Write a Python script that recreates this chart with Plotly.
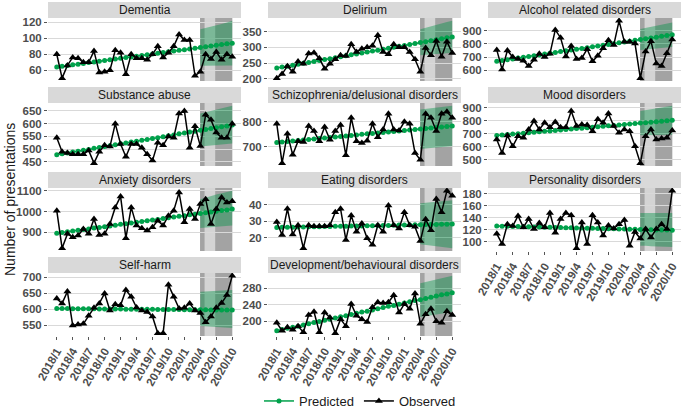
import plotly.graph_objects as go

MONTHS = ["2018/1","2018/2","2018/3","2018/4","2018/5","2018/6","2018/7","2018/8","2018/9","2018/10","2018/11","2018/12",
          "2019/1","2019/2","2019/3","2019/4","2019/5","2019/6","2019/7","2019/8","2019/9","2019/10","2019/11","2019/12",
          "2020/1","2020/2","2020/3","2020/4","2020/5","2020/6","2020/7","2020/8","2020/9","2020/10"]
TICKS = ["2018/1","2018/4","2018/7","2018/10","2019/1","2019/4","2019/7","2019/10","2020/1","2020/4","2020/7","2020/10"]
RIBBON_MONTHS = ["2020/4","2020/5","2020/6","2020/7","2020/8","2020/9","2020/10"]

dementia_obs = [80,50,66,76,75,70,70,84,57,58,60,85,82,55,80,75,75,73,80,90,76,82,90,105,98,98,53,58,80,74,83,73,80,77]
dementia_pred = [64.0,64.9,65.8,66.7,67.6,68.5,69.5,70.4,71.3,72.2,73.1,74.0,74.9,75.8,76.7,77.6,78.5,79.5,80.4,81.3,82.2,83.1,84.0,84.9,85.8,86.7,87.6,88.5,89.5,90.4,91.3,92.2,93.1,94.0]
dementia_lo = [65.5,66,66,66,66,66,66]
dementia_hi = [111.5,113,114.5,116,118,120,122]

delirium_obs = [202,215,240,222,255,248,280,283,265,232,248,262,275,272,310,285,295,300,305,338,285,278,310,300,300,285,262,222,298,275,320,270,318,282]
delirium_pred = [234,237,240,243,246,249,252,255,258,261,264,267,270,273,276,279,282,285,288,291,294,297,300,303,306,309,312,315,318,321,324,327,330,333]
delirium_lo = [275,277,278,279,280,281,282]
delirium_hi = [357,362,367,372,376,380,384]

alcohol_obs = [754,607,749,700,685,673,632,680,724,700,724,905,846,705,783,685,693,759,668,710,766,827,790,973,815,815,802,541,741,820,651,632,729,832]
alcohol_pred = [668,674,680,686,692,698,704,710,716,723,729,735,741,747,753,759,765,771,777,783,789,795,801,807,813,820,826,832,838,844,850,856,862,868]
alcohol_lo = [754,757,760,763,767,771,775]
alcohol_hi = [912,920,928,936,944,952,961]

substance_obs = [545,490,485,480,480,480,495,445,490,515,510,600,520,470,520,520,505,480,455,525,515,550,545,640,650,505,590,512,635,615,565,545,545,600]
substance_pred = [478,482,485,489,492,496,499,503,506,510,513,517,521,524,528,531,535,538,542,545,549,553,556,560,563,567,570,574,577,581,584,588,591,595]
substance_lo = [510,512,514,516,518,520,522]
substance_hi = [640,645,650,655,660,665,670]

schizo_obs = [792,636,752,669,723,720,783,763,723,779,729,763,787,667,816,723,716,725,792,739,769,832,769,765,800,792,676,649,832,816,763,832,840,816]
schizo_pred = [718,720,722,724,726,728,730,732,734,736,738,740,742,744,746,748,750,752,753,755,757,759,761,763,765,767,769,771,773,775,777,779,781,783]
schizo_lo = [692,694,696,698,700,702,703]
schizo_hi = [849,851,853,856,858,861,863]

mood_obs = [655,552,686,603,681,668,732,797,732,784,750,789,750,750,874,758,771,766,719,810,784,854,758,706,732,719,603,474,681,732,655,663,668,725]
mood_pred = [686,690,693,697,700,704,707,711,714,718,721,725,728,732,735,739,742,746,749,753,756,760,763,767,770,774,777,781,784,788,791,795,798,802]
mood_lo = [688,689,689,690,690,691,691]
mood_hi = [874,880,887,894,900,907,913]

anxiety_obs = [1004,823,892,876,884,916,892,964,887,892,940,1020,1073,871,1020,932,919,908,924,956,932,980,1004,1092,948,1012,964,1036,1060,940,1012,1068,1044,1050]
anxiety_pred = [895,899,902,906,909,913,916,920,923,927,930,934,938,941,945,948,952,955,959,962,966,970,973,977,980,984,987,991,994,998,1001,1005,1008,1012]
anxiety_lo = [920,922,924,926,928,930,932]
anxiety_hi = [1060,1068,1075,1082,1088,1094,1100]

eating_obs = [29.6,21.6,37.6,22,27.6,13.6,27.6,27,27,27,27.6,35.6,37.6,18.6,33.6,23.6,28.6,19.6,15.6,27.6,23.6,39.6,27.6,25.6,35.6,27.6,26.6,18,31.2,24.6,43.6,35.6,48.6,45.6]
eating_pred = [26.2,26.3,26.3,26.4,26.5,26.5,26.6,26.6,26.7,26.8,26.8,26.9,27.0,27.0,27.1,27.2,27.2,27.3,27.3,27.4,27.5,27.5,27.6,27.7,27.7,27.8,27.9,27.9,28.0,28.0,28.1,28.2,28.2,28.3]
eating_lo = [16,15.6,15.2,14.8,14.4,14,13.6]
eating_hi = [41,41.3,41.6,41.9,42.2,42.5,42.8]

personality_obs = [113,96,129,126,143,124,138,121,131,124,148,115,138,148,144,89,132,96,144,132,110,127,122,129,136,93,116,105,121,107,121,129,121,185]
personality_pred = [126.0,125.8,125.6,125.4,125.2,124.9,124.7,124.5,124.3,124.1,123.9,123.7,123.5,123.2,123.0,122.8,122.6,122.4,122.2,122.0,121.8,121.5,121.3,121.1,120.9,120.7,120.5,120.3,120.1,119.8,119.6,119.4,119.2,119.0]
personality_lo = [93,93,92,92,92,91,91]
personality_hi = [148,148,148,148,148,148,148]

selfharm_obs = [634,619,656,550,553,555,580,605,619,650,597,616,613,661,640,606,597,592,578,526,526,677,640,603,605,619,597,589,560,578,605,620,645,705]
selfharm_pred = [603.0,602.8,602.7,602.5,602.4,602.2,602.1,601.9,601.8,601.6,601.5,601.3,601.2,601.0,600.9,600.7,600.6,600.4,600.3,600.1,600.0,599.8,599.7,599.5,599.4,599.2,599.1,598.9,598.8,598.6,598.5,598.3,598.2,598.0]
selfharm_lo = [548,547,546,545,544,543,542]
selfharm_hi = [655,656,657,658,659,660,661]

develop_obs = [196,177,185,179,188,173,215,223,173,221,209,171,205,188,242,213,205,198,234,246,244,246,263,221,242,230,267,194,217,230,200,196,224,215]
develop_pred = [177,180,183,185,188,191,194,197,199,202,205,208,211,213,216,219,222,224,227,230,233,236,238,241,244,247,250,252,255,258,261,264,266,269]
develop_lo = [210,212,214,216,218,220,222]
develop_hi = [292,295,298,301,304,307,310]

PANELS = [
    ("Dementia", dementia_obs, dementia_pred, dementia_lo, dementia_hi, [60,80,100,120]),
    ("Delirium", delirium_obs, delirium_pred, delirium_lo, delirium_hi, [200,250,300,350]),
    ("Alcohol related disorders", alcohol_obs, alcohol_pred, alcohol_lo, alcohol_hi, [600,700,800,900]),
    ("Substance abuse", substance_obs, substance_pred, substance_lo, substance_hi, [450,500,550,600,650]),
    ("Schizophrenia/delusional disorders", schizo_obs, schizo_pred, schizo_lo, schizo_hi, [700,800]),
    ("Mood disorders", mood_obs, mood_pred, mood_lo, mood_hi, [500,600,700,800,900]),
    ("Anxiety disorders", anxiety_obs, anxiety_pred, anxiety_lo, anxiety_hi, [900,1000,1100]),
    ("Eating disorders", eating_obs, eating_pred, eating_lo, eating_hi, [20,30,40]),
    ("Personality disorders", personality_obs, personality_pred, personality_lo, personality_hi, [100,120,140,160,180]),
    ("Self-harm", selfharm_obs, selfharm_pred, selfharm_lo, selfharm_hi, [550,600,650,700]),
    ("Development/behavioural disorders", develop_obs, develop_pred, develop_lo, develop_hi, [160,200,240,280]),
]

W, H = 685, 410
COLS = [(48, 241), (268, 461), (488, 681)]
ROWS = [(18, 81), (103, 166), (188, 251), (273, 336)]
STRIP_H = 16
BOTTOM = {8, 9, 10}


def px(x):
    return x / W


def py(y):
    return (H - y) / H


GREEN = "#00A14B"
FONT = "Liberation Sans, Arial, sans-serif"
TICKFONT = dict(family=FONT, size=11.5, color="#4d4d4d", weight="bold")

fig = go.Figure()
shapes = []
annotations = []
layout = {}

for i, (name, obs, pred, lo, hi, yt) in enumerate(PANELS):
    r, c = divmod(i, 3)
    k = i + 1
    xs = "" if k == 1 else str(k)
    x0, x1 = COLS[c]
    y0, y1 = ROWS[r]
    allv = obs + pred + lo + hi
    vmin, vmax = min(allv), max(allv)
    pad = (vmax - vmin) * 0.05
    layout["xaxis" + xs] = dict(
        domain=[px(x0), px(x1)], anchor="y" + xs, type="category",
        categoryorder="array", categoryarray=MONTHS,
        range=[-1.65, 34.65], showgrid=False, zeroline=False, showline=False,
        tickmode="array", tickvals=TICKS, ticktext=TICKS,
        showticklabels=(i in BOTTOM), ticks="outside" if i in BOTTOM else "",
        ticklen=3, tickcolor="#555555", tickangle=-60, tickfont=TICKFONT,
    )
    layout["yaxis" + xs] = dict(
        domain=[py(y1), py(y0)], anchor="x" + xs,
        range=[vmin - pad, vmax + pad], tickvals=yt, showgrid=True,
        gridcolor="#d9d9d9", gridwidth=1, zeroline=False, showline=False,
        ticks="outside", ticklen=3, tickcolor="#555555", tickfont=TICKFONT,
    )
    for (a, b, col) in [(26.95, 33.0, "#d4d4d4"), (26.95, 27.8, "#a3a3a3"), (29.8, 33.0, "#a3a3a3")]:
        shapes.append(dict(type="rect", xref="x" + xs, yref="paper",
                           x0=a, x1=b, y0=py(y1), y1=py(y0),
                           fillcolor=col, line=dict(width=0), layer="below"))
    shapes.append(dict(type="rect", xref="paper", yref="paper", x0=px(x0), x1=px(x1),
                       y0=py(y0), y1=py(y0 - STRIP_H), fillcolor="#d9d9d9",
                       line=dict(width=0), layer="below"))
    annotations.append(dict(text=name, xref="paper", yref="paper", x=px((x0 + x1) / 2),
                            y=py(y0 - STRIP_H / 2), showarrow=False, xanchor="center", yanchor="middle",
                            font=dict(family=FONT, size=12, color="#1a1a1a")))
    fig.add_trace(go.Scatter(x=RIBBON_MONTHS + RIBBON_MONTHS[::-1], y=hi + lo[::-1], fill="toself",
                             fillcolor="rgba(0,145,70,0.42)", line=dict(width=0), mode="lines",
                             hoverinfo="skip", showlegend=False, xaxis="x" + xs, yaxis="y" + xs))
    fig.add_trace(go.Scatter(x=MONTHS, y=pred, mode="lines+markers", name="Predicted",
                             line=dict(color=GREEN, width=1.5), marker=dict(symbol="circle", size=5, color=GREEN),
                             showlegend=(i == 0), xaxis="x" + xs, yaxis="y" + xs))
    fig.add_trace(go.Scatter(x=MONTHS, y=obs, mode="lines+markers", name="Observed",
                             line=dict(color="black", width=1.5), marker=dict(symbol="triangle-up", size=7, color="black"),
                             showlegend=(i == 0), xaxis="x" + xs, yaxis="y" + xs))

annotations.append(dict(text="Number of presentations", xref="paper", yref="paper", x=px(10), y=py(200),
                        textangle=-90, showarrow=False, xanchor="center", yanchor="middle",
                        font=dict(family=FONT, size=14, color="#1a1a1a")))

fig.update_layout(
    width=W, height=H, margin=dict(l=0, r=0, t=0, b=0, autoexpand=False),
    paper_bgcolor="white", plot_bgcolor="rgba(0,0,0,0)",
    shapes=shapes, annotations=annotations,
    legend=dict(orientation="h", x=px(360), y=py(401), xanchor="center", yanchor="middle",
                font=dict(family=FONT, size=13, color="#1a1a1a"), itemwidth=30,
                bgcolor="rgba(0,0,0,0)"),
    **layout,
)

# remove the browser's default 8px body margin so the figure sits at the page origin
fig.write_html("out.html", config={"displayModeBar": False},
               post_script="document.body.style.margin='0';")
